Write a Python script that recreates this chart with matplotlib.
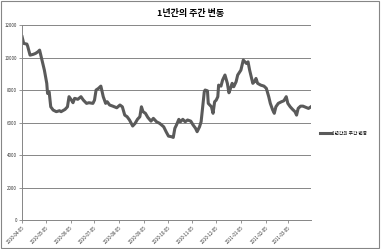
import datetime as dt
import matplotlib
matplotlib.use('Agg')
import matplotlib.pyplot as plt
import matplotlib.dates as mdates
from matplotlib.patches import Rectangle

plt.rcParams['font.family'] = ['Noto Sans CJK KR', 'DejaVu Sans']

# data: days since 2010-04-05 and weekly price
start = dt.date(2010, 4, 5)
days = [0, 2, 6, 7, 10, 14, 17, 20, 22, 24, 28, 31, 32, 34, 36, 39, 43, 47, 49, 54,
        57, 59, 62, 64, 66, 70, 74, 77, 81, 84, 89, 91, 93, 96, 99, 102, 105, 107, 110, 114,
        119, 123, 126, 129, 132, 135, 139, 142, 145, 148, 150, 152, 155, 158, 162, 165, 169, 173, 178, 181,
        184, 188, 190, 192, 194, 197, 199, 202, 205, 208, 212, 215, 218, 220, 223, 225, 227, 229, 230, 233,
        234, 238, 240, 242, 244, 246, 247, 250, 252, 255, 258, 260, 262, 264, 266, 269, 271, 275, 278, 280,
        282, 284, 286, 288, 290, 292, 294, 296, 300, 304, 307, 310, 312, 315, 317, 319, 322, 326, 329, 332,
        334, 337, 340, 343, 345, 347, 350, 353, 357, 360, 363]
values = [11280, 10870, 10830, 10700, 10150, 10200, 10260, 10360, 10460, 10050, 9230, 8420, 7800, 7900, 6980, 6780, 6680, 6740, 6680, 6820,
          6980, 7600, 7390, 7230, 7500, 7440, 7600, 7390, 7190, 7230, 7190, 7390, 8010, 8110, 8250, 7600, 7190, 7290, 7090, 7020,
          6920, 7090, 6980, 6470, 6370, 6170, 5800, 5960, 6210, 6370, 6980, 6680, 6580, 6330, 6100, 6270, 6060, 5960, 5750, 5450,
          5180, 5140, 5100, 5660, 5860, 6210, 6060, 6210, 6060, 6170, 6100, 5860, 5660, 5450, 5750, 6060, 6980, 7900, 8010, 7960,
          7190, 6980, 6580, 7290, 7390, 7600, 8310, 8250, 8620, 8930, 8420, 7840, 8110, 8420, 8210, 8520, 8930, 9230, 9850, 9740,
          9640, 9740, 9230, 8820, 8420, 8520, 8720, 8420, 8310, 8250, 8110, 7600, 7190, 6780, 6580, 6980, 7190, 7290, 7350, 7600,
          7190, 6980, 6820, 6680, 6470, 6880, 7020, 7020, 6940, 6880, 6980]
tick_dates = [dt.date(2010 + (m - 1) // 12, (m - 1) % 12 + 1, 5) for m in range(4, 16)]
y_ticks = [0, 2000, 4000, 6000, 8000, 10000, 12000]
title = '1년간의 주간 변동'

dates = [start + dt.timedelta(days=d) for d in days]

fig = plt.figure(figsize=(3.81, 2.49), dpi=100)
ax = fig.add_axes([0.058, 0.1145, 0.758, 0.785])

ax.plot(dates, values, color='#5a5a5a', linewidth=2.2, solid_joinstyle='round', label=title)

ax.set_ylim(0, 12000)
ax.set_yticks(y_ticks)
ax.set_yticklabels([str(v) for v in y_ticks], fontsize=3.2, color='#333333')
ax.set_xlim(dates[0], dates[-1])
ax.set_xticks(tick_dates)
ax.xaxis.set_major_formatter(mdates.DateFormatter('%Y-%m-%d'))
plt.setp(ax.get_xticklabels(), rotation=45, ha='right', rotation_mode='anchor', fontsize=3.2, color='#333333')

ax.grid(axis='y', color='#868686', linewidth=0.7)
ax.set_axisbelow(True)
for side in ['top', 'right']:
    ax.spines[side].set_visible(False)
for side in ['left', 'bottom']:
    ax.spines[side].set_color('#868686')
    ax.spines[side].set_linewidth(0.7)
ax.tick_params(axis='both', length=2, width=0.6, color='#868686', pad=1.5)

fig.text(0.5, 0.945, title, ha='center', va='center', fontsize=6.5, fontweight='bold')

fig.legend(loc='center left', bbox_to_anchor=(0.835, 0.465), fontsize=3.4, frameon=False,
           handlelength=2.2, handletextpad=0.3, borderpad=0)

# outer chart border
fig.patches.append(Rectangle((0.002, 0.004), 0.994, 0.992, transform=fig.transFigure,
                             fill=False, edgecolor='#868686', linewidth=0.8))

fig.savefig('out.png', dpi=100)
